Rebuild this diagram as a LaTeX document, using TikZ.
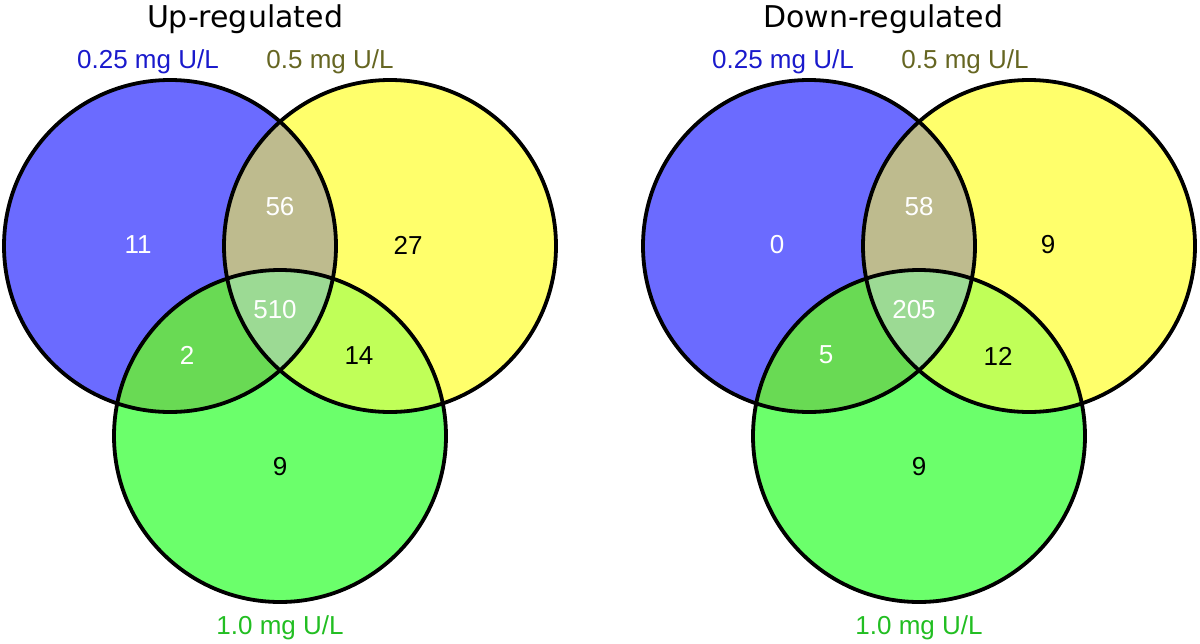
\documentclass[tikz,border=0pt]{standalone}
\usepackage{fontspec}
\setmainfont{Liberation Sans}
\newfontfamily\titlefont{DejaVu Sans}
\definecolor{cblue}{RGB}{107,107,255}
\definecolor{cyel}{RGB}{255,255,107}
\definecolor{cgrn}{RGB}{107,255,107}
\definecolor{cby}{RGB}{190,187,142}
\definecolor{cbg}{RGB}{105,218,84}
\definecolor{cyg}{RGB}{192,255,88}
\definecolor{cbyg}{RGB}{156,218,148}
\definecolor{tblue}{RGB}{26,26,204}
\definecolor{tolive}{RGB}{102,102,34}
\definecolor{tgreen}{RGB}{34,190,34}
\tikzset{
  ttl/.style={anchor=base,inner sep=0pt,font=\titlefont\fontsize{30}{36}\selectfont},
  lbl/.style={anchor=base,inner sep=0pt,font=\fontsize{26}{30}\selectfont},
  wnum/.style={inner sep=0pt,text=white,font=\fontsize{26}{30}\selectfont},
  bnum/.style={inner sep=0pt,text=black,font=\fontsize{26}{30}\selectfont},
  ring/.style={draw=black,line width=3.8pt}
}
\begin{document}
\begin{tikzpicture}[x=1pt,y=-1pt]
\useasboundingbox (0,0) rectangle (1200,643);
% ---------- left diagram ----------
\coordinate (LB) at (170,246);
\coordinate (LY) at (390,246);
\coordinate (LG) at (280,436);
\fill[cblue] (LB) circle (166pt);
\fill[cyel] (LY) circle (166pt);
\fill[cgrn] (LG) circle (166pt);
\begin{scope}\clip (LB) circle (166pt); \fill[cby] (LY) circle (166pt); \end{scope}
\begin{scope}\clip (LB) circle (166pt); \fill[cbg] (LG) circle (166pt); \end{scope}
\begin{scope}\clip (LY) circle (166pt); \fill[cyg] (LG) circle (166pt); \end{scope}
\begin{scope}\clip (LB) circle (166pt); \clip (LY) circle (166pt); \fill[cbyg] (LG) circle (166pt); \end{scope}
\draw[ring] (LB) circle (166pt);
\draw[ring] (LY) circle (166pt);
\draw[ring] (LG) circle (166pt);
\node[ttl] (lt) at (245,27) {Up-regulated};
\node[lbl,text=tblue] (lb) at (148,68) {0.25 mg U/L};
\node[lbl,text=tolive] (ly) at (330,68) {0.5 mg U/L};
\node[lbl,text=tgreen] (lg) at (280,634) {1.0 mg U/L};
\node[wnum] (l1) at (138,245) {11};
\node[wnum] (l2) at (280,207) {56};
\node[bnum] (l3) at (408,245) {27};
\node[wnum] (l4) at (275,310) {510};
\node[wnum] (l5) at (187,355) {2};
\node[bnum] (l6) at (359,356) {14};
\node[bnum] (l7) at (280,467) {9};
% ---------- right diagram ----------
\coordinate (RB) at (809,246);
\coordinate (RY) at (1029,246);
\coordinate (RG) at (919,436);
\fill[cblue] (RB) circle (166pt);
\fill[cyel] (RY) circle (166pt);
\fill[cgrn] (RG) circle (166pt);
\begin{scope}\clip (RB) circle (166pt); \fill[cby] (RY) circle (166pt); \end{scope}
\begin{scope}\clip (RB) circle (166pt); \fill[cbg] (RG) circle (166pt); \end{scope}
\begin{scope}\clip (RY) circle (166pt); \fill[cyg] (RG) circle (166pt); \end{scope}
\begin{scope}\clip (RB) circle (166pt); \clip (RY) circle (166pt); \fill[cbyg] (RG) circle (166pt); \end{scope}
\draw[ring] (RB) circle (166pt);
\draw[ring] (RY) circle (166pt);
\draw[ring] (RG) circle (166pt);
\node[ttl] (rt) at (883,27) {Down-regulated};
\node[lbl,text=tblue] (rb) at (783,68) {0.25 mg U/L};
\node[lbl,text=tolive] (ry) at (965,68) {0.5 mg U/L};
\node[lbl,text=tgreen] (rg) at (919,634) {1.0 mg U/L};
\node[wnum] (r1) at (777,245) {0};
\node[wnum] (r2) at (919,207) {58};
\node[bnum] (r3) at (1048,245) {9};
\node[wnum] (r4) at (914,310) {205};
\node[wnum] (r5) at (826,355) {5};
\node[bnum] (r6) at (998,356) {12};
\node[bnum] (r7) at (919,467) {9};
\end{tikzpicture}
\end{document}
